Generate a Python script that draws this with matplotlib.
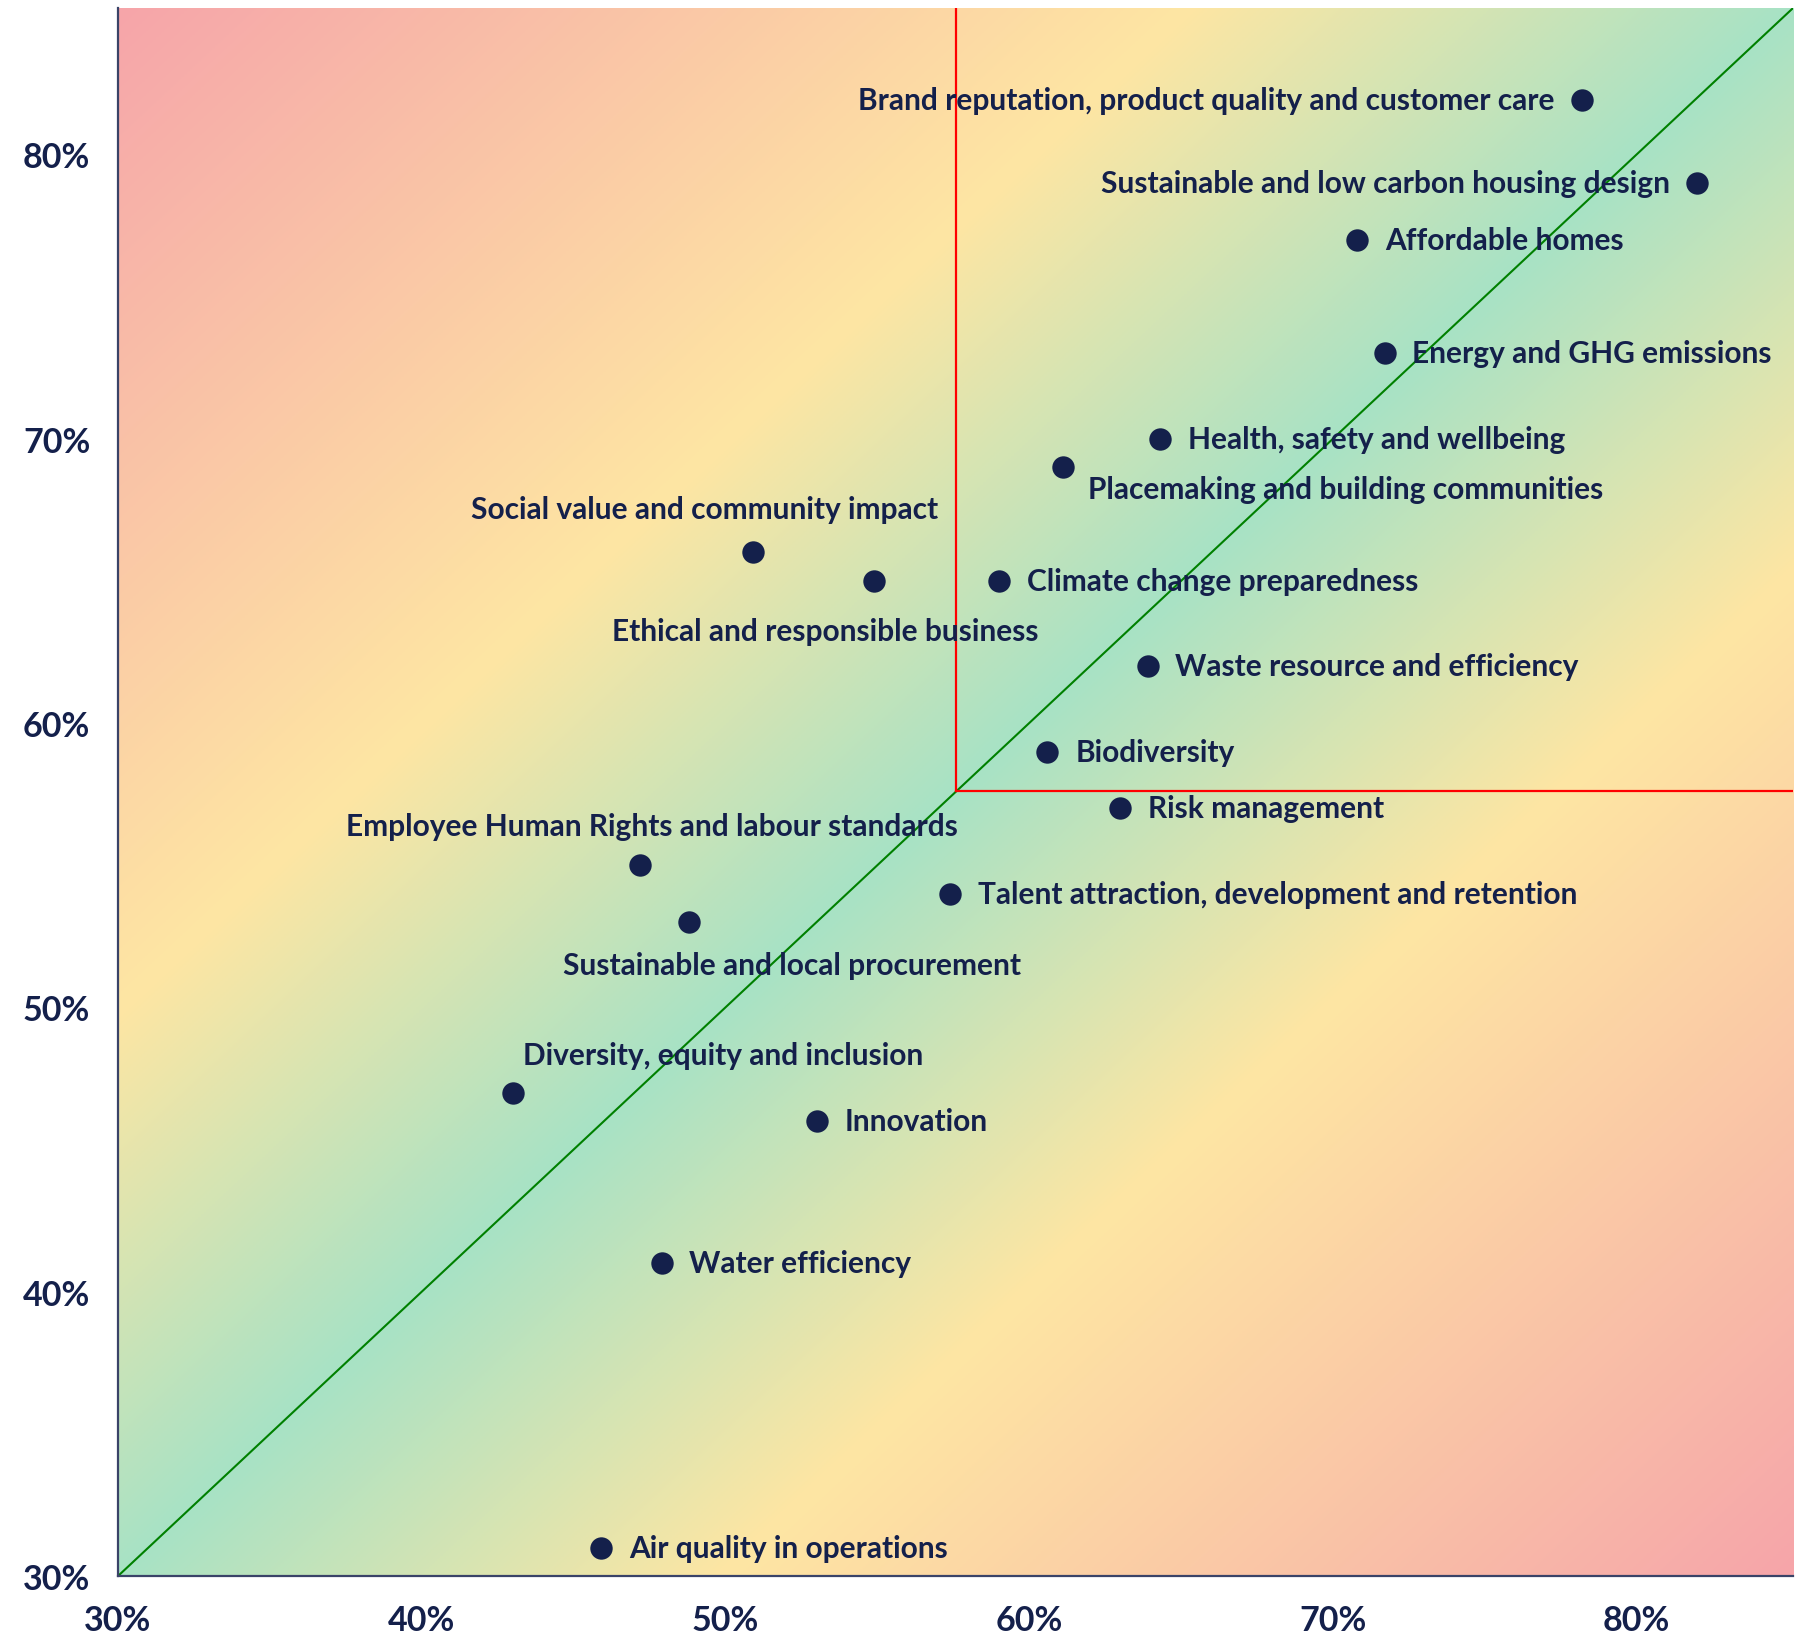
import numpy as np
import matplotlib.pyplot as plt
from matplotlib.colors import LinearSegmentedColormap

plt.rcParams['font.family'] = ['Lato', 'DejaVu Sans']

topics = ["Brand reputation, product quality and customer care",
          "Sustainable and low carbon housing design",
          "Affordable homes",
          "Energy and GHG emissions",
          "Health, safety and wellbeing",
          "Placemaking and building communities",
          "Social value and community impact",
          "Ethical and responsible business",
          "Climate change preparedness",
          "Waste resource and efficiency",
          "Biodiversity",
          "Risk management",
          "Employee Human Rights and labour standards",
          "Talent attraction, development and retention",
          "Sustainable and local procurement",
          "Diversity, equity and inclusion",
          "Innovation",
          "Water efficiency",
          "Air quality in operations"]
x_vals = [78.2, 82, 70.8, 71.7, 64.3, 61.1, 50.9, 54.9, 59, 63.9, 60.6, 63.0, 47.2, 57.4, 48.8, 43.0, 53.0, 47.9, 45.9]
y_vals = [81.9, 79, 77, 73, 70, 69, 66, 65, 65, 62, 59, 57, 55, 54, 53, 47, 46, 41, 31]
threshold = 57.6
ticks = [30, 40, 50, 60, 70, 80]

# label placement: (dx, dy) in points, horizontal alignment
label_pos = {
    "Brand reputation, product quality and customer care": (-20, 0, 'right'),
    "Sustainable and low carbon housing design": (-20, 0, 'right'),
    "Placemaking and building communities": (18, -16, 'left'),
    "Social value and community impact": (-35, 31, 'center'),
    "Ethical and responsible business": (-35, -36, 'center'),
    "Employee Human Rights and labour standards": (8, 28, 'center'),
    "Sustainable and local procurement": (74, -31, 'center'),
    "Diversity, equity and inclusion": (7, 27, 'left'),
}

navy = '#14204b'
lo, hi = 30, 85.15

fig = plt.figure(figsize=(17.99, 16.40), dpi=100)
ax = fig.add_axes([0.0656, 0.0384, 0.9311, 0.9561])

# diagonal background: green on the diagonal, yellow, then pink in the corners
cmap = LinearSegmentedColormap.from_list(
    'bg', [(0.0, '#a8e2c5'), (0.36, '#fee6a3'), (1.0, '#f6a5aa')])
g = np.linspace(lo, hi, 600)
gx, gy = np.meshgrid(g, g)
ax.imshow(np.abs(gx - gy) / (hi - lo), extent=[lo, hi, lo, hi], origin='lower',
          cmap=cmap, vmin=0, vmax=1, aspect='auto', interpolation='bilinear', zorder=0)

ax.plot([lo, hi], [lo, hi], color='#008000', lw=1.5, zorder=1)
ax.plot([threshold, threshold], [threshold, hi], color='#ff0000', lw=1.6, zorder=1)
ax.plot([threshold, hi], [threshold, threshold], color='#ff0000', lw=1.6, zorder=1)

ax.scatter(x_vals, y_vals, s=260, color=navy, zorder=3, linewidths=0)

for name, x, y in zip(topics, x_vals, y_vals):
    dx, dy, ha = label_pos.get(name, (20, 0, 'left'))
    ax.annotate(name, (x, y), xytext=(dx, dy), textcoords='offset points',
                ha=ha, va='center', fontsize=21.5, fontweight='bold',
                color=navy, zorder=4)

ax.set_xlim(lo, hi)
ax.set_ylim(lo, hi)
ax.set_xticks(ticks)
ax.set_yticks(ticks)
ax.set_xticklabels([f"{t}%" for t in ticks])
ax.set_yticklabels([f"{t}%" for t in ticks])
ax.tick_params(length=0, labelsize=24.5, labelcolor=navy, pad=20)
for lbl in ax.get_xticklabels() + ax.get_yticklabels():
    lbl.set_fontweight('bold')

for side in ['top', 'right']:
    ax.spines[side].set_visible(False)
for side in ['left', 'bottom']:
    ax.spines[side].set_color('#3a4368')
    ax.spines[side].set_linewidth(1.6)

fig.savefig('out.png', dpi=100)
